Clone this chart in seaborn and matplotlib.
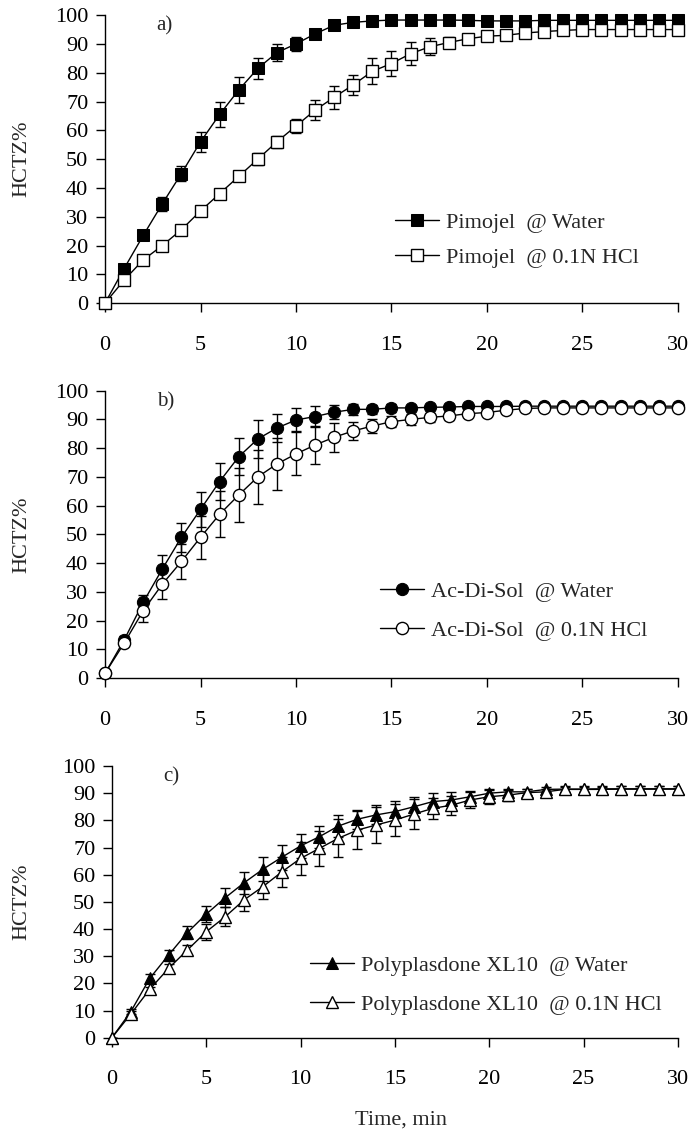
import numpy as np
import pandas as pd
import matplotlib
matplotlib.use("Agg")
import matplotlib.pyplot as plt
import seaborn as sns

# zaman (dakika)
time_min = list(range(0, 31))

# a) Pimojel
pim_water = [0, 12, 23.5, 34.5, 45, 56, 65.5, 74, 81.5, 87, 90, 93.5, 96.5, 97.5, 98, 98.3,
             98.3, 98.3, 98.3, 98.2, 98, 98, 98, 98.2, 98.2, 98.2, 98.2, 98.2, 98.2, 98.2, 98.2]
pim_water_sd = [0, 1, 1.5, 2.5, 2.5, 3.5, 4.5, 4.5, 3.5, 3, 2.5, 1, 1, 1, 1, 1,
                1, 1, 1, 1, 1, 1, 1, 1, 1, 1, 1, 1, 1, 1, 1]
pim_hcl = [0, 8, 15, 20, 25.5, 32, 38, 44, 50, 56, 61.5, 67, 71.5, 75.8, 80.5, 83.2,
           86.6, 89, 90.5, 91.8, 92.7, 93, 93.8, 94.3, 94.7, 95, 95, 95, 95, 95, 95]
pim_hcl_sd = [0, 1, 1, 1, 1, 1, 1, 1.5, 2, 2, 2.5, 3.5, 4, 3.5, 4.5, 4.5,
              4, 3, 2, 1.5, 1, 1, 1, 1, 1, 1, 1, 1, 1, 1, 1]

# b) Ac-Di-Sol
ads_water = [1.7, 13.3, 26.4, 38, 49, 58.7, 68.4, 77, 83.2, 87, 89.8, 91, 92.5, 93.5, 93.5, 94,
             94, 94.2, 94.3, 94.5, 94.5, 94.5, 94.6, 94.6, 94.6, 94.6, 94.6, 94.6, 94.6, 94.6, 94.6]
ads_water_sd = [0, 1.5, 2.5, 5, 5, 6, 6.5, 6.5, 6.5, 5, 4, 3.5, 2.5, 2, 1.5, 1.5,
                1, 1, 1, 1, 1, 1, 1, 1, 1, 1, 1, 1, 1, 1, 1]
ads_hcl = [1.7, 12.2, 23.5, 32.7, 40.6, 49, 57, 63.7, 70, 74.5, 78, 81.1, 83.8, 86, 87.7, 89.2,
           90, 90.7, 91.2, 92, 92.4, 93.2, 93.8, 94, 94, 94, 94, 94, 94, 94, 94]
ads_hcl_sd = [0, 1, 4, 5, 6, 7.5, 8, 9.5, 9.5, 9, 7.5, 6.5, 5, 3, 2.5, 2,
              2, 1.5, 1.5, 1, 1, 1, 1, 1, 1, 1, 1, 1, 1, 1, 1]

# c) Polyplasdone XL10
ppd_water = [0, 9.6, 21.8, 30.4, 38.7, 45.5, 51.5, 57, 62, 66.4, 70.6, 74, 77.9, 80.4, 82, 83.2,
             85, 86.9, 87.5, 88.7, 90, 90.5, 90.5, 91.4, 91.5, 91.5, 91.6, 91.6, 91.6, 91.6, 91.6]
ppd_water_sd = [0, 1, 1.5, 2, 2.5, 3, 3.5, 4, 4.5, 4.5, 4.5, 4, 4, 3.5, 3.5, 4,
                3.5, 3, 3, 2, 1.5, 1, 1, 1, 1, 1, 1, 1, 1, 1, 1]
ppd_hcl = [0, 8.7, 17.8, 25.5, 32.3, 39, 44.5, 50.7, 55.6, 61, 66, 69.7, 73.4, 76.4, 78.3, 80.1,
           82.3, 84.4, 85.6, 87.5, 88.7, 89.3, 90.2, 90.5, 91.4, 91.4, 91.4, 91.5, 91.5, 91.5, 91.5]
ppd_hcl_sd = [0, 1, 1, 1.5, 2, 3, 3.5, 4, 4.5, 5.5, 6, 6.5, 7, 7, 6.5, 6,
              5.5, 4, 3.5, 3, 2.5, 2, 1.5, 1, 1, 1, 1, 1, 1, 1, 1]

panels = [
    ("a)", "Pimojel", "s", pim_water, pim_water_sd, pim_hcl, pim_hcl_sd),
    ("b)", "Ac-Di-Sol", "o", ads_water, ads_water_sd, ads_hcl, ads_hcl_sd),
    ("c)", "Polyplasdone XL10", "^", ppd_water, ppd_water_sd, ppd_hcl, ppd_hcl_sd),
]

sns.set_theme(style="ticks")
plt.rcParams['font.family'] = ['Liberation Serif', 'DejaVu Serif']
FS = 16

fig = plt.figure(figsize=(6.91, 11.31), dpi=100)
rects = [
    [0.152, 0.732, 0.829, 0.2546],
    [0.152, 0.4003, 0.829, 0.2543],
    [0.162, 0.0825, 0.819, 0.2402],
]
# legend yeri, satir araligi, ylabel x konumu
legend_pos = [(0.506, 0.314), (0.48, 0.338), (0.35, 0.303)]
legend_sp = [0.63, 0.83, 0.83]
ylab_x = [-0.129, -0.129, -0.143]

for i, (rect, (tag, name, mk, w, wsd, h, hsd)) in enumerate(zip(rects, panels)):
    ax = fig.add_axes(rect)
    df = pd.DataFrame({"t": time_min, "water": w, "water_sd": wsd, "hcl": h, "hcl_sd": hsd})

    ax.errorbar(df["t"], df["water"], yerr=df["water_sd"], fmt="none", ecolor="black",
                elinewidth=1, capsize=3.5, capthick=1, zorder=2)
    ax.errorbar(df["t"], df["hcl"], yerr=df["hcl_sd"], fmt="none", ecolor="black",
                elinewidth=1, capsize=3.5, capthick=1, zorder=2)
    ms = {"s": 8.8, "o": 8.8, "^": 9.2}[mk]
    sns.lineplot(data=df, x="t", y="water", ax=ax, color="black", linewidth=1,
                 marker=mk, markersize=ms, markerfacecolor="black", markeredgecolor="black",
                 label=f"{name}  @ Water", zorder=3, clip_on=False)
    sns.lineplot(data=df, x="t", y="hcl", ax=ax, color="black", linewidth=1,
                 marker=mk, markersize=ms, markerfacecolor="white", markeredgecolor="black",
                 markeredgewidth=1, label=f"{name}  @ 0.1N HCl", zorder=4, clip_on=False)

    ax.set_xlim(0, 30)
    ax.set_ylim(0, 100)
    ax.set_xticks(range(0, 31, 5))
    ax.set_yticks(range(0, 101, 10))
    ax.tick_params(direction="out", length=6.5, width=1, labelsize=FS, colors="black")
    ax.tick_params(axis="x", pad=17)
    ax.tick_params(axis="y", pad=5.5)
    for s in ["top", "right"]:
        ax.spines[s].set_visible(False)
    for s in ["left", "bottom"]:
        ax.spines[s].set_color("black")
        ax.spines[s].set_linewidth(1)
    ax.set_xlabel("")
    ax.set_ylabel("HCTZ%", fontsize=FS)
    ax.yaxis.set_label_coords(ylab_x[i], 0.5)
    ax.text(0.09, 0.995, tag, transform=ax.transAxes, fontsize=15, va="top", ha="left")
    ax.legend(loc="upper left", bbox_to_anchor=legend_pos[i], frameon=False, fontsize=FS,
              handlelength=2.0, handletextpad=0.3, labelspacing=legend_sp[i],
              borderpad=0, borderaxespad=0)

fig.text(0.58, 0.0095, "Time, min", ha="center", va="center", fontsize=FS)

fig.savefig("out.png", dpi=100)
